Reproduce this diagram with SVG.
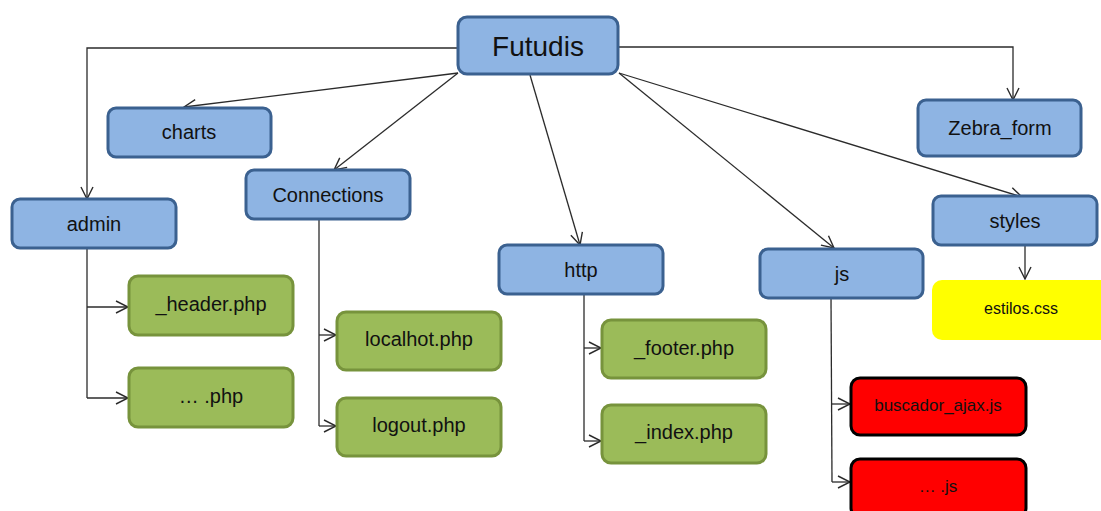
<svg xmlns="http://www.w3.org/2000/svg" width="1101" height="511" viewBox="0 0 1101 511">
<style>
.blue{fill:#8EB4E3;stroke:#3B6190;stroke-width:3}
.green{fill:#9BBB59;stroke:#77933C;stroke-width:3}
.red{fill:#FF0000;stroke:#000;stroke-width:3}
.yellow{fill:#FFFF00}
text{font-family:"Liberation Sans",Arial,sans-serif;fill:#111;text-anchor:middle;dominant-baseline:central}
.t20{font-size:20px}
.t17{font-size:17px}
.t16{font-size:16px}
.big{font-size:28px}
.c{fill:none;stroke:#2b2b2b;stroke-width:1.3;marker-end:url(#arr)}
.l{fill:none;stroke:#2b2b2b;stroke-width:1.3}
</style>
<defs>
<marker id="arr" markerUnits="userSpaceOnUse" markerWidth="16" markerHeight="16" viewBox="0 0 16 16" refX="14" refY="8" orient="auto">
<path d="M2,2 L14,8 L2,14" fill="none" stroke="#2b2b2b" stroke-width="1.4"/>
</marker>
</defs>
<rect width="1101" height="511" fill="#fff"/>
<g id="connectors">
<path class="c" d="M458,48 H87 V199"/>
<path class="c" d="M458,73 L184,107"/>
<path class="c" d="M458,73 L334,170"/>
<path class="c" d="M530,75 L580,245"/>
<path class="c" d="M619,73 L834,248"/>
<path class="c" d="M619,73 L1022,197"/>
<path class="c" d="M619,47 H1013 V100"/>
<path class="c" d="M1025,246 V279"/>
<path class="l" d="M87,248 V398"/>
<path class="c" d="M87,307 H128"/>
<path class="c" d="M87,398 H128"/>
<path class="l" d="M319,220 V426"/>
<path class="c" d="M319,335 H336"/>
<path class="c" d="M319,426 H336"/>
<path class="l" d="M584,294 V441"/>
<path class="c" d="M584,348 H601"/>
<path class="c" d="M584,441 H601"/>
<path class="l" d="M831,298 L832,482"/>
<path class="c" d="M832,404 H850"/>
<path class="c" d="M832,482 H850"/>
</g>
<g id="futudis"><rect class="blue" x="458" y="17" width="160" height="57" rx="9"/><text class="big" x="538" y="46">Futudis</text></g>
<g id="charts"><rect class="blue" x="108" y="108" width="163" height="49" rx="8"/><text class="t20" x="189" y="132">charts</text></g>
<g id="connections"><rect class="blue" x="246" y="170" width="164" height="49" rx="8"/><text class="t20" x="328" y="195">Connections</text></g>
<g id="admin"><rect class="blue" x="12" y="199" width="164" height="49" rx="8"/><text class="t20" x="94" y="224">admin</text></g>
<g id="zebra_form"><rect class="blue" x="918" y="100" width="163" height="56" rx="8"/><text class="t20" x="1000" y="128">Zebra_form</text></g>
<g id="styles"><rect class="blue" x="933" y="196" width="164" height="49" rx="8"/><text class="t20" x="1015" y="221">styles</text></g>
<g id="http"><rect class="blue" x="499" y="245" width="164" height="49" rx="8"/><text class="t20" x="581" y="270">http</text></g>
<g id="js"><rect class="blue" x="760" y="249" width="163" height="49" rx="8"/><text class="t20" x="842" y="274">js</text></g>
<g id="estilos"><rect class="yellow" x="932" y="280" width="180" height="60" rx="10"/><text class="t16" x="1021" y="308">estilos.css</text></g>
<g id="header"><rect class="green" x="129" y="276" width="164" height="59" rx="9"/><text class="t20" x="211" y="304">_header.php</text></g>
<g id="php"><rect class="green" x="129" y="368" width="164" height="59" rx="9"/><text class="t20" x="211" y="396">… .php</text></g>
<g id="localhot"><rect class="green" x="337" y="312" width="164" height="58" rx="9"/><text class="t20" x="419" y="339">localhot.php</text></g>
<g id="logout"><rect class="green" x="337" y="398" width="164" height="58" rx="9"/><text class="t20" x="419" y="425">logout.php</text></g>
<g id="footer"><rect class="green" x="602" y="320" width="164" height="58" rx="9"/><text class="t20" x="684" y="348">_footer.php</text></g>
<g id="index"><rect class="green" x="602" y="405" width="164" height="58" rx="9"/><text class="t20" x="684" y="432">_index.php</text></g>
<g id="buscador"><rect class="red" x="851" y="378" width="175" height="57" rx="9"/><text class="t17" x="938" y="405">buscador_ajax.js</text></g>
<g id="js_files"><rect class="red" x="851" y="459" width="175" height="58" rx="9"/><text class="t17" x="938" y="486">… .js</text></g>
</svg>
